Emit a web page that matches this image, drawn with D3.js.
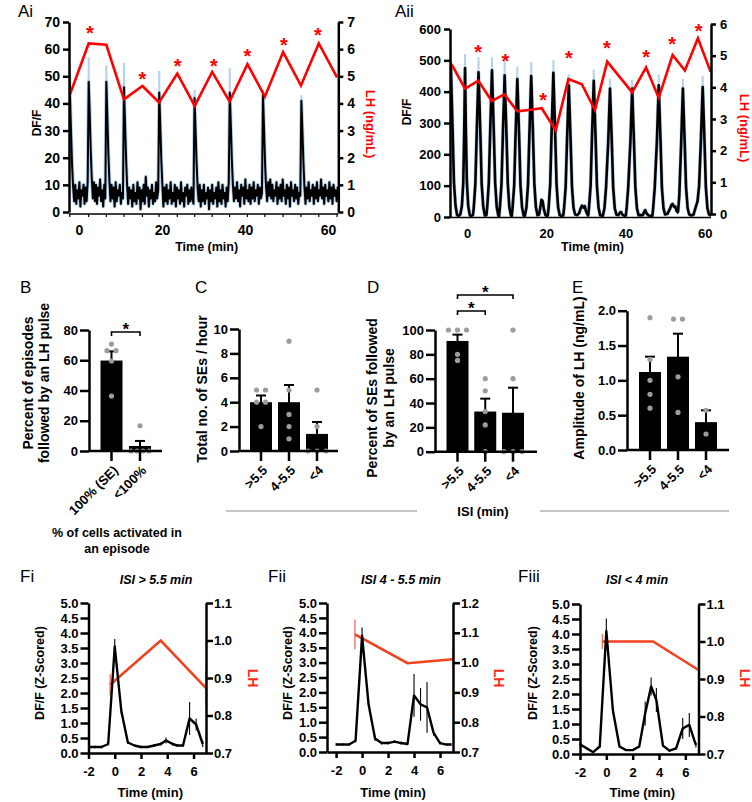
<!DOCTYPE html>
<html><head><meta charset="utf-8">
<script src="https://cdn.jsdelivr.net/npm/d3@7"></script>
<style>
body{margin:0;background:#fff;}
svg{display:block;font-family:"Liberation Sans",Arial,Helvetica,sans-serif;}
</style></head><body>
<svg id="c" width="752" height="802"></svg>
<script>
// ===================== DATA =====================
// Panel Ai : calcium trace (DF/F) sampled every 0.25 min from -2.4 min
const aiT0 = -2.4, aiDt = 0.25;
const aiValues = [
 53,42,29,17,9,4,10,3,8,5,11,2,8,6,10,3,9,4,11,48,
 36,22,12,5,11,4,10,3,9,6,12,4,8,2,10,5,48,35,21,11,
 4,10,5,9,2,11,4,8,6,10,3,7,5,46,33,20,10,3,9,5,
 8,2,10,4,7,3,11,5,9,1,8,4,10,3,13,6,9,2,8,5,
 10,3,7,4,11,5,8,44,32,19,10,2,9,4,10,3,8,5,11,3,
 7,4,10,2,9,5,8,3,11,4,7,2,9,6,10,3,8,4,9,5,
 3,42,30,18,9,4,10,2,8,4,10,3,7,5,9,1,8,4,10,3,
 7,5,9,2,11,4,8,3,10,5,7,2,9,4,11,44,32,19,10,4,
 9,5,11,4,8,2,10,6,9,3,12,5,8,4,10,3,9,5,11,4,
 8,6,10,3,9,5,7,43,31,18,9,4,11,6,12,5,10,4,8,6,
 11,3,9,5,10,4,12,6,8,3,10,5,9,2,11,6,8,4,10,5,
 9,3,7,6,41,30,18,9,3,9,5,11,4,8,6,10,3,9,5,11,
 4,8,6,12,5,9,3,10,6,8,4,11,5,9,3,10,6,8,4,9,
 5];
const aiSpikeT   = [-2.4, 2.35, 6.6, 10.85, 19.35, 27.85, 36.35, 44.35, 53.6];
const aiSpikeTop = [61, 57, 54, 55, 52, 45, 53, 45, 43];
const aiLhT = [-2.2, 2.33, 6.59, 10.84, 15.3, 19.3, 23.7, 27.9, 32.1, 36.3, 40.6, 44.8, 49.2, 53.5, 57.8, 62.2];
const aiLhV = [4.32, 6.21, 6.16, 4.15, 4.64, 4.04, 5.10, 3.91, 5.16, 4.07, 5.45, 4.25, 5.89, 4.66, 6.21, 4.96];
const aiStarT = [2.65, 15.3, 23.8, 32.5, 40.6, 49.4, 57.6];
const aiStarV = [6.76, 5.05, 5.54, 5.54, 5.91, 6.31, 6.68];
const aiTicksL = [0,10,20,30,40,50,60,70];
const aiTicksR = [0,1,2,3,4,5,6,7];
const aTimeTicks = [0,20,40,60];

// Panel Aii : calcium trace [time, DF/F]
const aiiTrace = [
 [-4.3,360],[-4.1,490],[-3.65,280],[-3.3,110],[-2.9,35],[-2.5,6],[-2.1,4],
 [-1.7,8],[-1.3,35],[-0.95,110],[-0.7,280],[-0.5,475],[-0.3,285],[-0.05,115],[0.3,35],[0.7,6],[1.1,3],
 [1.5,7],[1.7,30],[2.1,105],[2.45,270],[2.9,462],[3.35,275],[3.7,105],[4.1,32],[4.5,5],
 [4.9,6],[5.1,32],[5.5,110],[5.85,275],[6.3,468],[6.75,275],[7.1,110],[7.5,32],[7.9,5],
 [8.1,4],[8.3,30],[8.7,105],[9.05,265],[9.5,452],[9.95,265],[10.3,105],[10.7,30],[11.1,5],
 [11.3,4],[11.5,30],[11.9,100],[12.25,260],[12.7,440],[13.15,260],[13.5,100],[13.9,30],[14.3,5],
 [14.6,4],[15.0,30],[15.4,105],[15.75,265],[16.2,450],[16.65,265],[17.0,105],[17.4,30],[17.8,6],
 [18.2,8],[18.5,30],[18.8,55],[19.1,50],[19.4,25],[19.8,6],[20.2,4],
 [20.4,6],[20.6,30],[21.0,105],[21.35,270],[21.8,460],[22.25,270],[22.6,105],[23.0,30],[23.4,6],[23.8,4],
 [24.3,5],[24.5,28],[24.9,95],[25.25,245],[25.7,420],[26.15,245],[26.5,95],[26.9,28],[27.3,8],[27.8,6],
 [28.3,12],[28.7,28],[29.0,36],[29.4,30],[29.7,35],[30.0,20],[30.4,8],
 [30.6,5],[30.8,30],[31.2,100],[31.55,255],[32.0,435],[32.45,255],[32.8,100],[33.2,30],[33.6,6],
 [34.3,4],[34.7,28],[35.1,95],[35.65,240],[36.1,410],[36.55,240],[36.9,95],[37.3,28],[37.7,8],
 [38.2,6],[38.6,14],[38.9,16],[39.2,8],[39.7,4],
 [40.1,5],[40.3,28],[40.7,95],[41.25,240],[41.7,410],[42.15,240],[42.5,95],[42.9,28],[43.3,6],
 [44.4,6],[44.8,18],[45.0,22],[45.3,12],[45.8,5],
 [46.8,4],[47.0,28],[47.4,95],[47.95,245],[48.4,420],[48.85,245],[49.2,95],[49.6,28],[50.0,8],
 [50.6,10],[51.2,25],[51.6,38],[51.9,42],[52.3,32],[52.6,33],[52.9,20],[53.2,15],
 [53.3,20],[53.6,70],[54.05,230],[54.5,410],[54.95,240],[55.3,95],[55.7,28],[56.1,8],[56.6,5],
 [57.2,8],[57.7,30],[58.2,50],[58.6,100],[59.05,245],[59.5,415],[59.95,245],[60.3,95],[60.7,28],[61.1,8],[61.6,4]
];
const aiiSpikeT   = [-4.1, -0.5, 2.9, 6.3, 9.5, 12.7, 16.2, 21.8, 25.7, 32.0, 36.1, 41.7, 48.4, 54.5, 59.5];
const aiiSpikeBot = [490, 475, 462, 468, 452, 440, 450, 460, 420, 435, 410, 410, 420, 410, 415];
const aiiSpikeTop = [540, 520, 510, 510, 500, 480, 495, 500, 455, 470, 440, 438, 455, 440, 450];
const aiiLhT = [-3.86, -0.5, 2.85, 6.24, 9.42, 12.7, 16.1, 18.86, 22.4, 25.6, 29.0, 32.3, 35.4, 41.7, 45.2, 48.4, 51.9, 55.0, 58.3, 61.5];
const aiiLhV = [4.72, 3.96, 4.21, 3.57, 3.78, 3.24, 3.29, 3.34, 2.64, 4.26, 4.10, 3.28, 4.81, 3.84, 4.63, 3.67, 5.02, 4.53, 5.55, 4.49];
const aiiStarT = [2.8, 9.7, 19.2, 25.7, 35.3, 45.2, 51.8, 58.5];
const aiiStarV = [5.23, 4.95, 3.73, 5.04, 5.36, 5.07, 5.49, 5.92];
const aiiTicksL = [0,100,200,300,400,500,600];
const aiiTicksR = [0,1,2,3,4,5,6];

// Panel B
const bCats = ["100% (SE)", "<100%"];
const bMeans = [59.8, 3.3];
const bSems = [6.1, 3.35];
const bDots = [[70.7, 66.3, 66.3, 59.5, 36.3], [16.7, 0, 0, 0, 0]];
const bTicks = [0,20,40,60,80];

// Panels C, D, E (ISI groups)
const isiCats = [">5.5", "4-5.5", "<4"];
const cMeans = [4.0, 4.0, 1.4];
const cSems = [0.55, 1.41, 0.98];
const cDots = [[5,5,4,4,2],[9,5,3,2,1],[5,2,0,0,0]];
const cTicks = [0,2,4,6,8,10];

const dMeans = [91, 33, 32];
const dSems = [5.2, 10.6, 20.6];
const dDots = [[100,100,100,80,75],[60,50,33,22,0],[100,60,0,0,0]];
const dTicks = [0,20,40,60,80,100];

const eMeans = [1.12, 1.34, 0.40];
const eSems = [0.22, 0.33, 0.17];
const eDots = [[1.9,1.3,1.0,0.8,0.6],[1.88,1.88,1.05,0.54],[0.57,0.23]];
const eTicks = [0,0.5,1.0,1.5,2.0];

// Panels F : mean DF/F (z-scored) and LH
const fTicksL = [0,0.5,1.0,1.5,2.0,2.5,3.0,3.5,4.0,4.5,5.0];
const fTicksX = [-2,0,2,4,6];
const fiT = [-2,-1.5,-1,-0.5,0,0.5,1,1.5,2,2.5,3,3.5,3.9,4.4,4.75,5.2,5.7,6.2,6.7];
const fiV = [0.2,0.2,0.2,0.3,3.55,1.4,0.35,0.25,0.2,0.2,0.25,0.3,0.42,0.3,0.25,0.25,1.15,0.95,0.3];
const fiS = [0.04,0.04,0.04,0.05,0.25,0.1,0.05,0.04,0.04,0.04,0.05,0.05,0.1,0.05,0.04,0.04,0.55,0.2,0.1];
const fiLhT = [-0.35, 3.5, 6.95];
const fiLhV = [0.882, 1.0, 0.873];
const fiLhS = [0.028, 0, 0.05];
const fiTicksR = [0.7,0.8,0.9,1.0,1.1];

const fiiT = [-2,-1.5,-1,-0.5,0,0.5,1,1.5,2,2.5,3,3.5,4,4.5,5,5.5,6,6.5,6.85];
const fiiV = [0.25,0.25,0.25,0.38,3.9,1.6,0.45,0.3,0.3,0.35,0.3,0.27,1.9,1.6,1.5,0.65,0.3,0.25,0.25];
const fiiS = [0.04,0.04,0.04,0.05,0.28,0.1,0.08,0.05,0.05,0.05,0.05,0.04,0.72,0.55,0.85,0.1,0.05,0.04,0.04];
const fiiLhT = [-0.55, 3.5, 7.0];
const fiiLhV = [1.095, 0.998, 1.011];
const fiiLhS = [0.05, 0, 0.035];
const fiiTicksR = [0.7,0.8,0.9,1.0,1.1,1.2];

const fiiiT = [-2,-1.5,-1,-0.5,0,0.5,1,1.5,2,2.5,2.95,3.4,3.8,4.3,4.8,5.3,5.8,6.3,6.8];
const fiiiV = [0.32,0.19,0.06,0.25,4.1,1.45,0.25,0.13,0.13,0.25,1.35,2.25,1.8,0.28,0.11,0.19,0.85,0.97,0.3];
const fiiiS = [0.03,0.03,0.03,0.04,0.42,0.1,0.04,0.03,0.03,0.04,0.4,0.3,0.4,0.05,0.03,0.04,0.35,0.4,0.08];
const fiiiLhT = [-0.3, 3.55, 7.0];
const fiiiLhV = [1.0, 1.0, 0.924];
const fiiiLhS = [0.02, 0, 0];
const fiiiTicksR = [0.7,0.8,0.9,1.0,1.1];

// ===================== DRAWING =====================
const LIGHT = "#b6d4ee", RED = "#ff0000", FRED = "#f3421e", DOT = "#9c9c9c";
const svg = d3.select("#c");
const plain = d => String(d);

function fmtAxis(sel, fs) {
  sel.attr("font-family", null).attr("font-size", fs).attr("font-weight", "bold");
  sel.select(".domain").attr("stroke", "#000").attr("stroke-width", 2.5);
  sel.selectAll(".tick line").attr("stroke", "#000").attr("stroke-width", 2.5);
  sel.selectAll(".tick text").attr("fill", "#000");
}
function txt(x, y, s, o = {}) {
  const t = svg.append("text").attr("x", x).attr("y", y).text(s)
    .attr("font-size", o.fs || 13).attr("font-weight", o.fw || "bold")
    .attr("fill", o.fill || "#000").attr("text-anchor", o.anchor || "start");
  if (o.italic) t.attr("font-style", "italic");
  return t;
}
function vtxt(cx, cy, s, o = {}) {
  return svg.append("text").attr("transform", `translate(${cx},${cy}) rotate(${o.rot || -90})`)
    .attr("text-anchor", "middle").attr("dy", "0.35em").text(s)
    .attr("font-size", o.fs || 14).attr("font-weight", "bold").attr("fill", o.fill || "#000");
}

function panelA(o) {
  const g = svg.append("g");
  const [x0, x1] = o.x.range();
  const clip = svg.append("clipPath").attr("id", o.id);
  clip.append("rect").attr("x", x0).attr("y", 0).attr("width", x1 - x0).attr("height", o.yL.range()[0] + 2);
  const plot = g.append("g").attr("clip-path", `url(#${o.id})`);
  const line = d3.line().x(d => o.x(d[0])).y(d => o.yL(d[1]));
  plot.append("path").datum(o.trace).attr("d", line).attr("fill", "none")
    .attr("stroke", LIGHT).attr("stroke-width", o.haloW).attr("stroke-linejoin", "round");
  plot.selectAll(null).data(o.spikeT).join("line")
    .attr("x1", d => o.x(d)).attr("x2", d => o.x(d))
    .attr("y1", (d, i) => o.yL(o.spikeBot[i])).attr("y2", (d, i) => o.yL(o.spikeTop[i]))
    .attr("stroke", LIGHT).attr("stroke-width", 2.2);
  plot.append("path").datum(o.trace).attr("d", line).attr("fill", "none")
    .attr("stroke", "#000").attr("stroke-width", o.lineW).attr("stroke-linejoin", "round");
  g.append("line").attr("x1", x0).attr("x2", x1).attr("y1", o.axisY).attr("y2", o.axisY)
    .attr("stroke", "#000").attr("stroke-width", 1.5);
  if (o.baseTicks) g.selectAll(null).data(o.baseTicks).join("line")
    .attr("x1", d => o.x(d)).attr("x2", d => o.x(d)).attr("y1", o.axisY).attr("y2", o.axisY + 3)
    .attr("stroke", "#000").attr("stroke-width", 1.2);
  const lh = o.lhT.map((t, i) => [t, o.lhV[i]]);
  plot.append("path").datum(lh).attr("d", d3.line().x(d => o.x(d[0])).y(d => o.yR(d[1])))
    .attr("fill", "none").attr("stroke", RED).attr("stroke-width", 2.6).attr("stroke-linejoin", "miter");
  g.selectAll(null).data(o.starT).join("text")
    .attr("x", d => o.x(d)).attr("y", (d, i) => o.yR(o.starV[i]) + 11)
    .attr("text-anchor", "middle").attr("font-size", 20).attr("font-weight", "bold")
    .attr("fill", RED).text("*");
  const yl = g.append("g").attr("transform", `translate(${x0},0)`)
    .call(d3.axisLeft(o.yL).tickValues(o.ticksL).tickFormat(plain).tickSize(6).tickPadding(3).tickSizeOuter(0));
  fmtAxis(yl, o.fs);
  const yr = g.append("g").attr("transform", `translate(${x1},0)`)
    .call(d3.axisRight(o.yR).tickValues(o.ticksR).tickFormat(plain).tickSize(5).tickPadding(4).tickSizeOuter(0));
  fmtAxis(yr, o.fs);
  const xa = g.append("g").attr("transform", `translate(0,${o.axisY})`)
    .call(d3.axisBottom(o.x).tickValues(aTimeTicks).tickFormat(plain).tickSize(0).tickPadding(11));
  fmtAxis(xa, o.fs);
  xa.select(".domain").remove();
  txt((x0 + x1) / 2 + o.timeDx, 251, "Time (min)", { fs: 12.5, anchor: "middle" });
  vtxt(o.dfX, o.dfY, "DF/F", { fs: 12 });
  vtxt(o.lhX, o.lhY, "LH (ng/mL)", { fs: 13, rot: 90, fill: RED });
}

panelA({
  id: "clipAi",
  x: d3.scaleLinear().domain([-2.4, 62.5]).range([69, 338.3]),
  yL: d3.scaleLinear().domain([0, 70]).range([212, 22]),
  yR: d3.scaleLinear().domain([0, 7]).range([212, 22]),
  trace: aiValues.map((v, i) => [aiT0 + i * aiDt, v]),
  spikeT: aiSpikeT, spikeBot: aiSpikeTop.map(v => v - 14), spikeTop: aiSpikeTop,
  lhT: aiLhT, lhV: aiLhV, starT: aiStarT, starV: aiStarV,
  ticksL: aiTicksL, ticksR: aiTicksR, fs: 14, haloW: 3.8, lineW: 2.0,
  axisY: 214, baseTicks: aiLhT, timeDx: 3,
  dfX: 37, dfY: 123, lhX: 371, lhY: 124
});
panelA({
  id: "clipAii",
  x: d3.scaleLinear().domain([-4.3, 61.6]).range([450, 711]),
  yL: d3.scaleLinear().domain([0, 600]).range([217, 29]),
  yR: d3.scaleLinear().domain([0, 6]).range([214, 24]),
  trace: aiiTrace,
  spikeT: aiiSpikeT, spikeBot: aiiSpikeBot, spikeTop: aiiSpikeTop,
  lhT: aiiLhT, lhV: aiiLhV, starT: aiiStarT, starV: aiiStarV,
  ticksL: aiiTicksL, ticksR: aiiTicksR, fs: 13, haloW: 3.8, lineW: 2.6,
  axisY: 217.5, baseTicks: null, timeDx: 12,
  dfX: 407, dfY: 112, lhX: 745, lhY: 128
});

txt(18, 17, "Ai", { fs: 17, fw: "normal" });
txt(395, 17, "Aii", { fs: 17, fw: "normal" });
txt(20, 293, "B", { fs: 17, fw: "normal" });
txt(195, 293, "C", { fs: 17, fw: "normal" });
txt(367, 293, "D", { fs: 17, fw: "normal" });
txt(572, 293, "E", { fs: 17, fw: "normal" });
txt(20, 582, "Fi", { fs: 17, fw: "normal" });
txt(268, 582, "Fii", { fs: 17, fw: "normal" });
txt(518, 582, "Fiii", { fs: 17, fw: "normal" });

const BW = 22;
function barPanel(o) {
  const y = d3.scaleLinear().domain([0, o.ymax]).range([o.y0, o.y1]);
  const x = d3.scalePoint().domain(o.cats).range(o.xr);
  const g = svg.append("g");
  g.selectAll(null).data(o.means).join("rect")
    .attr("x", (d, i) => x(o.cats[i]) - BW / 2).attr("width", BW)
    .attr("y", d => y(d)).attr("height", d => y(0) - y(d)).attr("fill", "#000");
  o.means.forEach((m, i) => {
    const cx = x(o.cats[i]), top = y(m + o.sems[i]);
    g.append("line").attr("x1", cx).attr("x2", cx).attr("y1", y(Math.max(0, m - o.sems[i]))).attr("y2", top)
      .attr("stroke", "#000").attr("stroke-width", 2);
    g.append("line").attr("x1", cx - 5).attr("x2", cx + 5).attr("y1", top).attr("y2", top)
      .attr("stroke", "#000").attr("stroke-width", 2);
  });
  o.dots.forEach((arr, i) => {
    const counts = d3.rollup(arr, v => v.length, d => d);
    const seen = new Map();
    arr.forEach(v => {
      const n = counts.get(v), k = seen.get(v) || 0;
      seen.set(v, k + 1);
      const sp = n > 3 ? 6 : 9;
      g.append("circle").attr("cx", x(o.cats[i]) + (k - (n - 1) / 2) * sp).attr("cy", y(v))
        .attr("r", 2.6).attr("fill", DOT);
    });
  });
  const ya = g.append("g").attr("transform", `translate(${o.ax},0)`)
    .call(d3.axisLeft(y).tickValues(o.ticks).tickFormat(o.fmt).tickSize(9).tickPadding(2).tickSizeOuter(0));
  fmtAxis(ya, 13);
  g.append("line").attr("x1", o.ax).attr("x2", o.axEnd).attr("y1", y(0)).attr("y2", y(0))
    .attr("stroke", "#000").attr("stroke-width", 2.5);
  o.cats.forEach(c => {
    g.append("line").attr("x1", x(c)).attr("x2", x(c)).attr("y1", y(0)).attr("y2", y(0) + 10)
      .attr("stroke", "#000").attr("stroke-width", 2.5);
    g.append("text").attr("transform", `translate(${x(c) + 4},${y(0) + 17}) rotate(-45)`)
      .attr("text-anchor", "end").attr("dy", "0.35em").attr("font-size", 13).attr("font-weight", "bold")
      .text(c);
  });
  (o.brackets || []).forEach(b => {
    const xa = x(o.cats[b[0]]), xb = x(o.cats[b[1]]);
    g.append("path").attr("d", `M${xa},${b[2] + 4}V${b[2]}H${xb}V${b[2] + 4}`)
      .attr("fill", "none").attr("stroke", "#000").attr("stroke-width", 1.6);
    g.append("text").attr("x", (xa + xb) / 2).attr("y", b[2] + 2.5).attr("text-anchor", "middle")
      .attr("font-size", 17).attr("font-weight", "bold").text("*");
  });
}

barPanel({ cats: bCats, means: bMeans, sems: bSems, dots: bDots, ymax: 80, y0: 451, y1: 330,
  xr: [111.5, 140], ax: 89, axEnd: 162, ticks: bTicks, fmt: plain, brackets: [[0, 1, 332]] });
barPanel({ cats: isiCats, means: cMeans, sems: cSems, dots: cDots, ymax: 10, y0: 451, y1: 329,
  xr: [261, 317], ax: 239, axEnd: 338, ticks: cTicks, fmt: plain });
barPanel({ cats: isiCats, means: dMeans, sems: dSems, dots: dDots, ymax: 100, y0: 451.7, y1: 330,
  xr: [457.5, 513], ax: 435, axEnd: 537, ticks: dTicks, fmt: plain,
  brackets: [[0, 2, 295], [0, 1, 311]] });
barPanel({ cats: isiCats, means: eMeans, sems: eSems, dots: eDots, ymax: 2, y0: 450, y1: 310.7,
  xr: [650, 706], ax: 627, axEnd: 729, ticks: eTicks, fmt: d3.format(".1f") });

vtxt(28, 383, "Percent of episodes");
vtxt(44, 383, "followed by an LH pulse");
vtxt(202.5, 389, "Total no. of SEs / hour");
vtxt(372.5, 398, "Percent of SEs followed");
vtxt(389, 398, "by an LH pulse");
vtxt(579, 378, "Amplitude of LH (ng/mL)");
txt(117, 537, "% of cells activated in", { anchor: "middle", fs: 12.5 });
txt(117, 553, "an episode", { anchor: "middle", fs: 12.5 });

svg.append("line").attr("x1", 226).attr("x2", 417).attr("y1", 511).attr("y2", 511).attr("stroke", "#8c8c8c").attr("stroke-width", 1.2);
svg.append("line").attr("x1", 540).attr("x2", 729).attr("y1", 511).attr("y2", 511).attr("stroke", "#8c8c8c").attr("stroke-width", 1.2);
txt(483, 516, "ISI (min)", { anchor: "middle" });

function fPanel(o) {
  const x = d3.scaleLinear().domain(o.xd).range(o.xr);
  const y = d3.scaleLinear().domain([0, 5]).range(o.yr);
  const yR = d3.scaleLinear().domain([0.7, o.rmax]).range(o.yr);
  const g = svg.append("g");
  o.lhT.forEach((t, i) => {
    if (o.lhS[i] > 0) g.append("line").attr("x1", x(t)).attr("x2", x(t))
      .attr("y1", yR(o.lhV[i] - o.lhS[i])).attr("y2", yR(o.lhV[i] + o.lhS[i]))
      .attr("stroke", "#f36a5a").attr("stroke-width", 1.3);
  });
  g.append("path").datum(o.lhT.map((t, i) => [t, o.lhV[i]]))
    .attr("d", d3.line().x(d => x(d[0])).y(d => yR(d[1])))
    .attr("fill", "none").attr("stroke", FRED).attr("stroke-width", 2.6);
  o.t.forEach((t, i) => {
    g.append("line").attr("x1", x(t)).attr("x2", x(t))
      .attr("y1", y(Math.max(0, o.v[i] - o.s[i]))).attr("y2", y(o.v[i] + o.s[i]))
      .attr("stroke", "#000").attr("stroke-width", 1.1);
  });
  g.append("path").datum(o.t.map((t, i) => [t, o.v[i]]))
    .attr("d", d3.line().x(d => x(d[0])).y(d => y(d[1])))
    .attr("fill", "none").attr("stroke", "#000").attr("stroke-width", 2.4).attr("stroke-linejoin", "round");
  const [xa0, xa1] = o.xr;
  const yl = g.append("g").attr("transform", `translate(${xa0},0)`)
    .call(d3.axisLeft(y).tickValues(fTicksL).tickFormat(d3.format(".1f")).tickSize(8).tickPadding(2).tickSizeOuter(0));
  fmtAxis(yl, 13);
  const yr = g.append("g").attr("transform", `translate(${xa1},0)`)
    .call(d3.axisRight(yR).tickValues(o.ticksR).tickFormat(d3.format(".1f")).tickSize(7).tickPadding(1).tickSizeOuter(0));
  fmtAxis(yr, 13);
  const xa = g.append("g").attr("transform", `translate(0,${o.yr[0]})`)
    .call(d3.axisBottom(x).tickValues(fTicksX).tickFormat(plain).tickSize(6).tickPadding(8).tickSizeOuter(0));
  fmtAxis(xa, 13);
  txt((xa0 + xa1) / 2 + 3, 797, "Time (min)", { anchor: "middle" });
  vtxt(o.dfX, 673, "DF/F (Z-Scored)", { fs: 12.5 });
  vtxt(o.lhX, 678, "LH", { fs: 14, rot: 90, fill: "#ff2a1a" });
  txt(o.titleX, 584, o.title, { fs: 12.5, anchor: "middle", italic: true });
}

fPanel({ xd: [-2, 6.95], xr: [88.5, 206], yr: [753, 603], rmax: 1.1, ticksR: fiTicksR,
  t: fiT, v: fiV, s: fiS, lhT: fiLhT, lhV: fiLhV, lhS: fiLhS,
  dfX: 39.5, lhX: 253, titleX: 156, title: "ISI > 5.5 min" });
fPanel({ xd: [-2.7, 7], xr: [327, 453], yr: [752, 603], rmax: 1.2, ticksR: fiiTicksR,
  t: fiiT, v: fiiV, s: fiiS, lhT: fiiLhT, lhV: fiiLhV, lhS: fiiLhS,
  dfX: 288, lhX: 499, titleX: 401, title: "ISI 4 - 5.5 min" });
fPanel({ xd: [-2, 7], xr: [580, 698.5], yr: [754, 604], rmax: 1.1, ticksR: fiiiTicksR,
  t: fiiiT, v: fiiiV, s: fiiiS, lhT: fiiiLhT, lhV: fiiiLhV, lhS: fiiiLhS,
  dfX: 533, lhX: 745, titleX: 637, title: "ISI < 4 min" });
</script></body></html>
